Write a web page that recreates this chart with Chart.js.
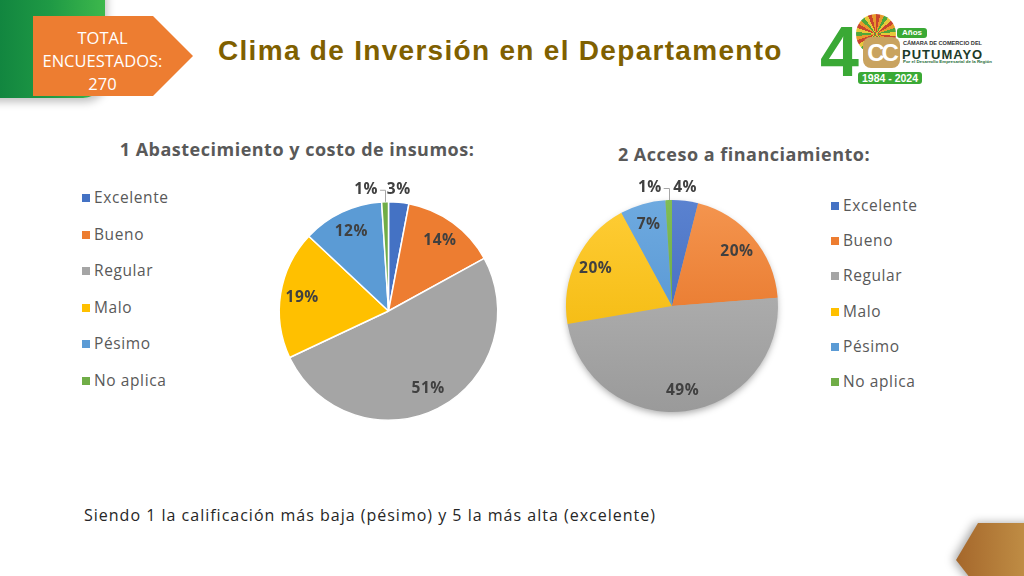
<!DOCTYPE html>
<html lang="es">
<head>
<meta charset="utf-8">
<script src="https://cdn.jsdelivr.net/npm/chart.js@4.4.1/dist/chart.umd.min.js"></script>
<style>
  html, body { margin: 0; padding: 0; background: #fff; }
  body { width: 1024px; height: 576px; position: relative; overflow: hidden; font-family: "Open Sans", sans-serif; }
  .abs { position: absolute; }
  .greenTab {
    left: -30px; top: -30px; width: 135px; height: 128px; border-radius: 22px;
    background: linear-gradient(90deg, #0a7a3c 0%, #1f9a45 60%, #3db84c 100%);
    box-shadow: 2px 4px 8px rgba(0,0,0,0.25);
  }
  .arrowBox {
    left: 33px; top: 16px; width: 160px; height: 80px;
    background: #ED7D31;
    clip-path: polygon(0 0, 75% 0, 100% 50%, 75% 100%, 0 100%);
    color: #fff; font-size: 16.5px; line-height: 23px;
  }
  .arrowBox div { position: absolute; left: 0; width: 139px; text-align: center; }
  .mainTitle {
    left: 218px; top: 35px; font-family: "Liberation Sans", Arial, sans-serif;
    font-weight: bold; font-size: 28px; letter-spacing: 1.3px; color: #7F6000; white-space: nowrap;
  }
  .subTitle { font-weight: bold; font-size: 18px; letter-spacing: 0.5px; color: #595959; white-space: nowrap; transform: translateX(-50%); }
  .legend { font-size: 15.5px; letter-spacing: 0.6px; color: #595959; }
  .legend .li { position: absolute; left: 0; white-space: nowrap; line-height: 20px; }
  .legend .li span { display: inline-block; width: 8px; height: 8px; margin-right: 4px; vertical-align: 1px; }
  .footer { left: 84px; top: 504px; font-size: 16px; letter-spacing: 1px; color: #262626; white-space: nowrap; }
  .goldWrap { left: 0; top: 0; width: 1024px; height: 576px; filter: drop-shadow(-3px 0 5px rgba(0,0,0,0.35)); }
  .goldShape {
    position: absolute; left: 956px; top: 523px; width: 90px; height: 60px;
    background: linear-gradient(90deg, #a5672b 0%, #c7984c 100%);
    clip-path: polygon(22px 0, 100% 0, 100% 100%, 18px 100%, 0 37px);
  }
  canvas { position: absolute; }
  /* logo */
  .l4 { left: 820px; top: 17px; font-family: "Liberation Sans", Arial, sans-serif; font-weight: bold; font-size: 70px; color: #3aa935; line-height: 70px; }
  .lring { left: 856px; top: 14px; width: 40px; height: 40px; border-radius: 50%;
    background: repeating-conic-gradient(#c9442e 0deg 12deg, #e89a2c 12deg 24deg, #4fa73a 24deg 36deg, #e8c83a 36deg 48deg); }
  .lcc { left: 863px; top: 37px; width: 37px; height: 31px; background: #c9a35f; border-radius: 8px; color: #fff;
    font: bold 24px "Liberation Sans", Arial, sans-serif; text-align: center; line-height: 31px; letter-spacing: -3px; }
  .lanos { left: 897px; top: 28px; width: 30px; height: 10px; background: #3aa935; color: #fff; border-radius: 3px;
    font: bold 8px "Liberation Sans", Arial, sans-serif; text-align: center; line-height: 10px; }
  .lcam { left: 903px; top: 40px; font: bold 5.6px "Liberation Sans", Arial, sans-serif; color: #333; white-space: nowrap; }
  .lput { left: 902px; top: 47px; font: bold 13px "Liberation Sans", Arial, sans-serif; color: #1d3b2a; letter-spacing: 1px; white-space: nowrap; }
  .lpor { left: 903px; top: 59px; font: bold 4.4px "Liberation Sans", Arial, sans-serif; color: #1d6b35; white-space: nowrap; }
  .lyear { left: 858px; top: 72px; width: 64px; height: 12px; background: #3aa935; color: #fff; border-radius: 3px;
    font: bold 10.5px "Liberation Sans", Arial, sans-serif; text-align: center; line-height: 12px; }
</style>
</head>
<body>

<div class="abs greenTab"></div>
<div class="abs arrowBox">
  <div style="top:10px">TOTAL</div>
  <div style="top:33px">ENCUESTADOS:</div>
  <div style="top:56px">270</div>
</div>
<div class="abs mainTitle">Clima de Inversión en el Departamento</div>

<div class="abs l4">4</div>
<div class="abs lring"></div>
<div class="abs lcc">CC</div>
<div class="abs lanos">Años</div>
<div class="abs lcam">CÁMARA DE COMERCIO DEL</div>
<div class="abs lput">PUTUMAYO</div>
<div class="abs lpor">Por el Desarrollo Empresarial de la Región</div>
<div class="abs lyear">1984 - 2024</div>

<div class="abs subTitle" style="left:297px; top:137px">1 Abastecimiento y costo de insumos:</div>
<div class="abs subTitle" style="left:744px; top:142px">2 Acceso a financiamiento:</div>

<div class="abs legend" id="legend1" style="left:82px; top:187px"></div>
<div class="abs legend" id="legend2" style="left:831px; top:195px"></div>

<canvas id="chart1" width="280" height="270" style="left:250px; top:170px"></canvas>
<canvas id="chart2" width="270" height="260" style="left:540px; top:170px"></canvas>

<div class="abs footer">Siendo 1 la calificación más baja (pésimo) y 5 la más alta (excelente)</div>

<div class="abs goldWrap"><div class="goldShape"></div></div>

<script>
// ── datos ──────────────────────────────────────────────
const categories           = ['Excelente', 'Bueno', 'Regular', 'Malo', 'Pésimo', 'No aplica'];
const insumosValues        = [3, 14, 51, 19, 12, 1];   // 1 Abastecimiento y costo de insumos (%)
const financiamientoValues = [4, 20, 49, 20, 7, 1];    // 2 Acceso a financiamiento (%)

const sliceColors = ['#4472C4', '#ED7D31', '#A5A5A5', '#FFC000', '#5B9BD5', '#70AD47'];
const gradTop     = ['#5a82d0', '#f4954f', '#bababa', '#ffcd36', '#6eaae0', '#80bd55'];
const gradBottom  = ['#3a62b5', '#e2691a', '#9a9a9a', '#efb300', '#4a8bcb', '#5f9e38'];

// labels de porcentaje (dentro / fuera con guía)
const pctLabels = {
    id: 'pctLabels',
    afterDatasetsDraw(chart) {
        const { ctx } = chart;
        const meta = chart.getDatasetMeta(0);
        const values = chart.data.datasets[0].data;
        ctx.save();
        ctx.font = 'bold 15.5px "Open Sans", sans-serif';
        if ('letterSpacing' in ctx) ctx.letterSpacing = '0.5px';
        ctx.fillStyle = '#404040';
        ctx.textBaseline = 'middle';
        meta.data.forEach((arc, i) => {
            const { x, y, startAngle, endAngle, outerRadius } = arc.getProps(['x', 'y', 'startAngle', 'endAngle', 'outerRadius'], true);
            const mid = (startAngle + endAngle) / 2;
            const txt = values[i] + '%';
            if (values[i] > 4) {
                const d = outerRadius * 0.8;
                ctx.textAlign = 'center';
                ctx.fillText(txt, x + Math.cos(mid) * d, y + Math.sin(mid) * d);
                return;
            }
            const ax = x + Math.cos(mid) * outerRadius;
            const ay = y + Math.sin(mid) * outerRadius;
            const ly = y - outerRadius - 12;
            if (ax >= x) {
                ctx.textAlign = 'center';
                ctx.fillText(txt, ax, ly);
            } else {
                ctx.textAlign = 'right';
                ctx.fillText(txt, ax - 7, ly);
                ctx.strokeStyle = '#a6a6a6';
                ctx.lineWidth = 1;
                ctx.beginPath();
                ctx.moveTo(ax - 5, ly + 0.5);
                ctx.lineTo(Math.round(ax) + 0.5, ly + 0.5);
                ctx.lineTo(Math.round(ax) + 0.5, ay);
                ctx.stroke();
            }
        });
        ctx.restore();
    }
};

// sombra suave del segundo pastel
const pieShadow = {
    id: 'pieShadow',
    beforeDatasetsDraw(chart, args, opts) {
        if (!opts.enabled) return;
        const arc = chart.getDatasetMeta(0).data[0];
        if (!arc) return;
        const { ctx } = chart;
        ctx.save();
        ctx.shadowColor = 'rgba(0,0,0,0.35)';
        ctx.shadowBlur = 7;
        ctx.shadowOffsetY = 3;
        ctx.fillStyle = '#aaa';
        ctx.beginPath();
        ctx.arc(arc.x, arc.y, arc.outerRadius - 1, 0, Math.PI * 2);
        ctx.fill();
        ctx.restore();
    }
};

function makePie(id, values, padding, opts) {
    const ctx = document.getElementById(id).getContext('2d');
    return new Chart(ctx, {
        type: 'pie',
        data: {
            labels: categories,
            datasets: [{
                data: values,
                backgroundColor: opts.gradient
                    ? (c) => {
                        const area = c.chart.chartArea;
                        if (!area) return sliceColors[c.dataIndex];
                        const g = c.chart.ctx.createLinearGradient(0, area.top, 0, area.bottom);
                        g.addColorStop(0, gradTop[c.dataIndex]);
                        g.addColorStop(1, gradBottom[c.dataIndex]);
                        return g;
                    }
                    : sliceColors,
                borderColor: opts.gradient ? 'rgba(255,255,255,0)' : '#fff',
                borderWidth: opts.gradient ? 0 : 1.5,
                hoverOffset: 0,
            }],
        },
        options: {
            responsive: false,
            animation: false,
            layout: { padding },
            plugins: {
                legend: { display: false },
                tooltip: { enabled: false },
                pieShadow: { enabled: !!opts.gradient },
            },
        },
        plugins: [pieShadow, pctLabels],
    });
}

function buildLegend(elId, spacing) {
    document.getElementById(elId).innerHTML = categories.map((c, i) =>
        `<div class="li" style="top:${(i * spacing).toFixed(1)}px"><span style="background:${sliceColors[i]}"></span>${c}</div>`
    ).join('');
}

makePie('chart1', insumosValues,        { left: 28.5, right: 31.5, top: 31, bottom: 19 }, {});
makePie('chart2', financiamientoValues, { left: 26,   right: 32,   top: 30, bottom: 18 }, { gradient: true });
buildLegend('legend1', 36.6);
buildLegend('legend2', 35.2);
</script>
</body>
</html>
